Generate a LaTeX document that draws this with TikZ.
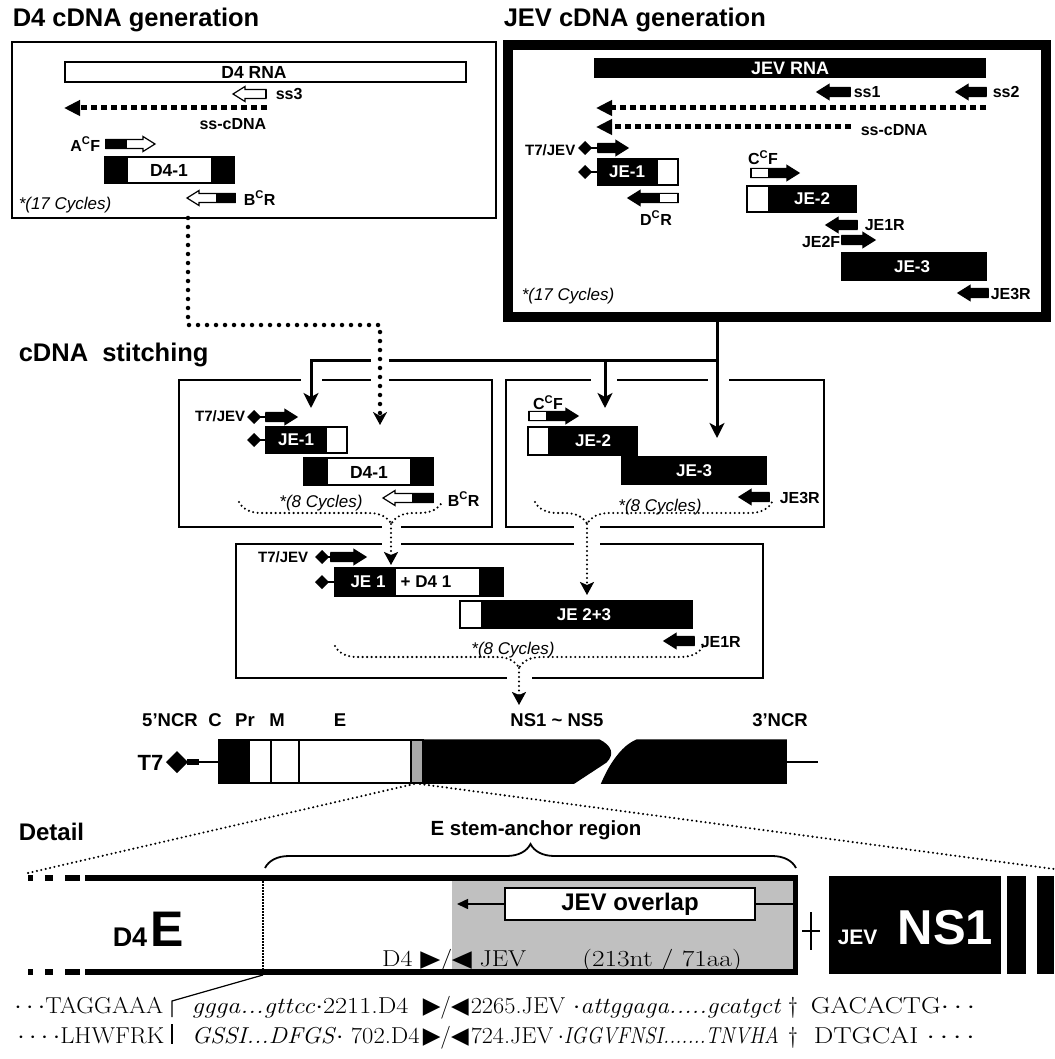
\documentclass[tikz,border=0pt]{standalone}
\usepackage{fontspec}
\setsansfont{Liberation Sans}
\newfontfamily\arrowglyphs{DejaVu Sans}
\usetikzlibrary{arrows.meta, decorations.pathreplacing, calc}
\definecolor{cgray}{HTML}{C0C0C0}
\definecolor{cdgray}{HTML}{A8A8A8}
\tikzset{
  every picture/.style={font=\sffamily, line width=1.5pt},
  title/.style={font=\sffamily\bfseries\fontsize{25.5pt}{28pt}\selectfont, anchor=west, inner sep=0pt},
  lbl/.style={font=\sffamily\bfseries\fontsize{#1}{#1}\selectfont, inner sep=0pt},
  lbl/.default=16pt,
  wlbl/.style={lbl=#1, text=white},
  wlbl/.default=17pt,
  cycles/.style={font=\sffamily\itshape\fontsize{17pt}{19pt}\selectfont, inner sep=0pt},
  serif/.style={font=\rmfamily\fontsize{23pt}{25pt}\selectfont, inner sep=0pt, anchor=base west},
  panel/.style={draw, inner sep=0pt, outer sep=0pt, line width=2.2pt},
  frag/.style={draw, line width=1.3pt},
  ssdash/.style={line width=5pt, dash pattern=on 6pt off 4pt, -{Triangle[length=16pt, width=15pt]}},
  bigdots/.style={line width=4.5pt, dash pattern=on 0pt off 9pt, line cap=round, -{Stealth[length=13pt, width=14pt, inset=4pt]}},
  dotline/.style={line width=2.3pt, dash pattern=on 0pt off 4.5pt, line cap=round},
  dotarrow/.style={dotline, -{Stealth[length=13pt, width=14pt, inset=3pt]}},
  feed/.style={line width=3pt, -{Stealth[length=15pt, width=15pt, inset=4pt]}},
}

\begin{document}
\begin{tikzpicture}[x=1pt, y=-1pt]
  \useasboundingbox (0,0) rectangle (1054,1059);
  \newcommand{\primer}[6]{% tail x, tip x, y, tail length, tail fill, body fill
    \pgfmathsetmacro{\pdir}{sign(#2-#1)}
    \filldraw[fill=#6, line width=1.2pt] (#1,#3-4.5) -- ({#2-(\pdir)*12},#3-4.5) -- ({#2-(\pdir)*12},#3-7.5) -- (#2,#3)
      -- ({#2-(\pdir)*12},#3+7.5) -- ({#2-(\pdir)*12},#3+4.5) -- (#1,#3+4.5) -- cycle;
    \filldraw[fill=#5, line width=1.2pt] (#1,#3-4.5) rectangle ({#1+(\pdir)*(#4)},#3+4.5);
  }
  \newcommand{\fragment}[3]{% y top, y bottom, list of x1/x2/fill
    \foreach \a/\b/\col in {#3} {\filldraw[frag, fill=\col] (\a,#1) rectangle (\b,#2);}
  }
  \newcommand{\tsev}[2]{\fill (#1-7,#2) -- (#1,#2-7) -- (#1+7,#2) -- (#1,#2+7) -- cycle;}
  \newcommand{\gap}[3]{\fill[white] ({#1-#3/2},#2-5) rectangle ({#1+#3/2},#2+5);}
  \newcommand{\cdotrow}{${\cdot}\,{\cdot}\,{\cdot}\,{\cdot}$}
  \newcommand{\junct}{{\arrowglyphs ▶}/{\arrowglyphs ◀}}
  \newcommand{\wide}[2][1.13]{\scalebox{#1}[1]{#2}}

  % titles
  \node[title] (d4title) at (12,20) {D4 cDNA generation};
  \node[title] (jevtitle) at (503,20) {JEV cDNA generation};
  \node[title] (stitchtitle) at (18,355) {cDNA\ \ stitching};
  \node[title, font=\sffamily\bfseries\fontsize{24pt}{26pt}\selectfont] (detailtitle) at (18,832) {Detail};

  % D4 cDNA generation
  \node[panel, minimum width=484pt, minimum height=176pt] (d4panel) at (254,130) {};
  \filldraw[frag, fill=white] (65,62) rectangle (466,82);
  \node[lbl=17.5pt] (d4rna) at (254,72) {D4 RNA};
  \primer{266}{233}{94}{0}{white}{white}
  \node[lbl, anchor=west] (ssthree) at (275,94) {ss3};
  \draw[ssdash] (267,108) -- (64,108);
  \node[lbl, anchor=east] (d4ss) at (267,124) {ss-cDNA};
  \node[lbl, anchor=east] (acf) at (101,144) {A\textsuperscript{C}F};
  \primer{106}{155}{144}{20}{black}{white}
  \fragment{157}{183}{105/127/black, 127/212/white, 212/234/black}
  \node[lbl=17.5pt] (d4one) at (169,170) {D4-1};
  \primer{235}{187}{198}{18}{black}{white}
  \node[lbl, anchor=west] (bcr) at (243,198) {B\textsuperscript{C}R};
  \node[cycles, anchor=west] (d4cyc) at (18,205) {*(17 Cycles)};

  % JEV cDNA generation
  \node[panel, minimum width=538pt, minimum height=272pt, line width=10pt] (jevpanel) at (777,181) {};
  \fill (594,58) rectangle (986,78);
  \node[wlbl=18pt] (jevrna) at (790,68) {JEV RNA};
  \primer{850}{817}{92}{0}{black}{black}
  \node[lbl, anchor=west] (ssone) at (853,92) {ss1};
  \primer{986}{956}{92}{0}{black}{black}
  \node[lbl, anchor=west] (sstwo) at (992,92) {ss2};
  \draw[ssdash] (986,108) -- (596,108);
  \draw[ssdash] (851,127) -- (596,127);
  \node[lbl, anchor=west] (jevss) at (860,130) {ss-cDNA};
  \node[lbl=15pt, anchor=east] (tjev) at (576,150) {T7/JEV};
  \tsev{585}{148} \draw (585,148) -- (598,148);
  \primer{598}{628}{148}{0}{black}{black}
  \tsev{585}{172} \draw (585,172) -- (598,172);
  \fragment{159}{185}{598/657/black, 657/678/white}
  \node[wlbl] (jeone) at (627,172) {JE-1};
  \primer{678}{628}{198}{19}{white}{black}
  \node[lbl] (dcr) at (656,218) {D\textsuperscript{C}R};
  \node[lbl] (ccf) at (763,158) {C\textsuperscript{C}F};
  \primer{751}{799}{173}{18}{white}{black}
  \fragment{186}{212}{747/769/white, 769/856/black}
  \node[wlbl] (jetwo) at (812,199) {JE-2};
  \primer{857}{826}{225}{0}{black}{black}
  \node[lbl, anchor=west] (jeoner) at (864,225) {JE1R};
  \node[lbl, anchor=east] (jetwof) at (841,242) {JE2F};
  \primer{842}{875}{240}{0}{black}{black}
  \fragment{253}{280}{842/986/black}
  \node[wlbl] (jethree) at (912,267) {JE-3};
  \primer{988}{958}{293}{0}{black}{black}
  \node[lbl, anchor=west] (jethreer) at (990,294) {JE3R};
  \node[cycles, anchor=west] (jevcyc) at (521,296) {*(17 Cycles)};

  % cDNA stitching
  \node[panel, minimum width=313pt, minimum height=147pt] (leftmix) at (335.5,453.5) {};
  \node[panel, minimum width=318pt, minimum height=147pt] (rightmix) at (665,453.5) {};
  \node[panel, minimum width=527pt, minimum height=134pt] (joinmix) at (499.5,611) {};
  \gap{311}{380}{21} \gap{380}{380}{18} \gap{604}{380}{26} \gap{718}{380}{21}
  \gap{391}{527}{19} \gap{391}{544}{19} \gap{587}{527}{26} \gap{587}{544}{26}
  \gap{519}{678}{25}

  \coordinate (jevdrop) at (717,360);
  \coordinate (leftturn) at (311,360);
  \coordinate (rightfork) at (605,360);
  \draw[feed] (jevpanel.south -| jevdrop) -- (717,438);
  \draw[feed] (jevdrop) -- (leftturn) -- (311,408);
  \draw[feed] (rightfork) -- (605,408);
  \gap{380}{360}{18}
  \coordinate (d4drop) at (188,325);
  \coordinate (d4land) at (380,425);
  \draw[bigdots] (d4panel.south -| d4drop) -- (d4drop) -| (d4land);

  % left mix
  \node[lbl=15pt, anchor=east] (tjevb) at (246,416) {T7/JEV};
  \tsev{254}{417} \draw (254,417) -- (266,417);
  \primer{266}{297}{417}{0}{black}{black}
  \tsev{254}{440} \draw (254,440) -- (266,440);
  \fragment{427}{453}{266/326/black, 326/347/white}
  \node[wlbl] (jeoneb) at (296,440) {JE-1};
  \fragment{458}{485}{304/327/black, 327/411/white, 411/433/black}
  \node[lbl=17.5pt] (dfouroneb) at (369,472) {D4-1};
  \primer{433}{383}{498}{20}{black}{white}
  \node[lbl, anchor=west] (bcrb) at (447,499) {B\textsuperscript{C}R};
  \node[cycles] (leftcyc) at (321,503) {*(8 Cycles)};
  \draw[dotline, decorate, decoration={brace, mirror, amplitude=22pt, aspect=0.75}] (239,502) -- (442,502);
  \draw[dotarrow] (391,524) -- (391,565);

  % right mix
  \node[lbl] (ccfb) at (548,403) {C\textsuperscript{C}F};
  \primer{529}{578}{416}{18}{white}{black}
  \fragment{427}{455}{528/549/white, 549/637/black}
  \node[wlbl] (jetwob) at (593,441) {JE-2};
  \fragment{457}{484}{622/766/black}
  \node[wlbl] (jethreeb) at (694,471) {JE-3};
  \primer{769}{739}{497}{0}{black}{black}
  \node[lbl, anchor=west] (jethreerb) at (779,498) {JE3R};
  \node[cycles] (rightcyc) at (660,507) {*(8 Cycles)};
  \draw[dotline, decorate, decoration={brace, mirror, amplitude=22pt, aspect=0.22}] (535,502) -- (772,502);
  \draw[dotarrow] (587,524) -- (587,595);

  % joined mix
  \node[lbl=15pt, anchor=east] (tjevc) at (309,557) {T7/JEV};
  \tsev{322}{557} \draw (322,557) -- (331,557);
  \primer{331}{366}{557}{0}{black}{black}
  \tsev{322}{582} \draw (322,582) -- (335,582);
  \fragment{568}{596}{335/395/black, 395/480/white, 480/503/black}
  \node[wlbl] (jeonec) at (368,582) {JE 1};
  \node[lbl=17pt] (dfouronec) at (426,582) {+ D4 1};
  \fragment{601}{628}{460/482/white, 482/692/black}
  \node[wlbl] (jetwothree) at (584,615) {JE 2+3};
  \primer{694}{664}{641}{0}{black}{black}
  \node[lbl, anchor=west] (jeonerc) at (700,642) {JE1R};
  \node[cycles] (joincyc) at (513,650) {*(8 Cycles)};
  \draw[dotline, decorate, decoration={brace, mirror, amplitude=22pt, aspect=0.5}] (335,646) -- (703,646);
  \draw[dotarrow] (519,668) -- (519,705);

  % genome
  \foreach \x/\t/\n in {170/5'NCR/gfive, 215/C/gc, 245/Pr/gpr, 277/M/gm, 340/E/ge, 557/NS1 \textasciitilde\ NS5/gns, 780/3'NCR/gthree}
    \node[lbl=18.5pt] (\n) at (\x,720) {\t};
  \node[lbl=22pt, anchor=east] (tseven) at (164,763) {T7};
  \fill (166,762) -- (177,751) -- (188,762) -- (177,773) -- cycle;
  \draw[line width=6pt] (187,762) -- (199,762);
  \draw (199,762) -- (219,762);
  \fragment{740}{783}{219/249/black, 249/271/white, 271/299/white, 299/411/white, 411/423/cdgray}
  \filldraw (423,740) -- (599,740) .. controls (611,746) and (614,754) .. (606,762) -- (574,783) -- (423,783) -- cycle;
  \filldraw (637,740) -- (786,740) -- (786,783) -- (602,783) .. controls (606,774) and (610,766) .. (616,758)
    .. controls (622,750) and (628,744) .. (637,740) -- cycle;
  \draw (786,762) -- (818,762);
  \draw[dotline] (414,784) -- (28,873);
  \draw[dotline] (420,784) -- (1054,869);

  % detail
  \fill[cgray] (452,881) rectangle (795,969);
  \draw[line width=6pt] (85,878) -- (797,878);
  \draw[line width=6pt] (85,972) -- (797,972);
  \foreach \a/\b in {28/33, 45/53, 65/80} {
    \fill (\a,875) rectangle (\b,881);
    \fill (\a,969) rectangle (\b,975);
  }
  \draw[line width=5pt] (795,875) -- (795,975);
  \draw[line width=1.2pt, dash pattern=on 1.5pt off 1.5pt] (263,881) -- (263,969);
  \draw[line width=1.8pt, decorate, decoration={brace, amplitude=24pt, aspect=0.5}] (265,868) -- (796,868);
  \node[lbl=20.5pt] (stemlbl) at (536,830) {E stem-anchor region};
  \node[draw, fill=white, line width=1.5pt, minimum width=250pt, minimum height=32pt, inner sep=0pt,
    lbl=24pt] (overlap) at (630,904) {JEV overlap};
  \draw (overlap.east) -- (793,904);
  \draw[-{Triangle[length=11pt, width=10pt]}] (overlap.west) -- (457,904);
  \node[lbl=27pt, anchor=base west] (dfour) at (112,946) {D4};
  \node[lbl=50pt, anchor=base west] (ebig) at (150,946) {E};
  \node[serif, anchor=base east] (d4mark) at (453,966) {\wide{D4 {\arrowglyphs ▶}/}};
  \node[serif] (jevmark) at (451,966) {\wide{{\arrowglyphs ◀} JEV}};
  \node[serif, anchor=base] (span) at (662,966) {\wide[1.19]{(213nt / 71aa)}};
  \draw[line width=1.2pt] (811,912) -- (811,950) (802,931) -- (820,931);
  \fill (829,876) rectangle (1001,974);
  \fill (1007,876) rectangle (1026,974);
  \fill (1037,876) rectangle (1054,974);
  \node[wlbl=21pt, anchor=base west] (nsjev) at (837,944) {JEV};
  \node[wlbl=49pt, anchor=base west] (nsone) at (897,944) {NS1};

  % sequences
  \draw[line width=1.2pt] (263,975) -- (172,1001) -- (172,1017);
  \draw[line width=1.2pt] (172,1024) -- (172,1044);
  \node[serif, anchor=base east] (ntleft) at (164,1013) {\wide[1.07]{$\cdots$TAGGAAA}};
  \node[serif] (ntfive) at (191,1013) {\wide[1.14]{\textit{ggga...gttcc}$\cdot$2211.D4}};
  \node[serif] (ntmark) at (422,1013) {\junct};
  \node[serif] (ntjev) at (470,1013) {\wide[1.06]{2265.JEV}};
  \node[serif] (ntthree) at (572,1013) {\wide[1.1]{$\cdot$\textit{attggaga.....gcatgct}}};
  \node[serif, anchor=base] (ntdag) at (793,1013) {\textdagger};
  \node[serif] (ntend) at (810,1013) {\wide[1.18]{GACACTG$\cdots$}};
  \node[serif, anchor=base east] (aaleft) at (165,1043) {\wide[1.07]{\cdotrow LHWFRK}};
  \node[serif] (aafive) at (191,1043) {\wide[1.07]{\textit{GSSI...DFGS}$\cdot$ 702.D4}};
  \node[serif] (aamark) at (422,1043) {\junct};
  \node[serif] (aajev) at (470,1043) {\wide[1.05]{724.JEV}};
  \node[serif] (aathree) at (557,1043) {\wide[0.88]{$\cdot$\textit{IGGVFNSI.......TNVHA}}};
  \node[serif, anchor=base] (aadag) at (793,1043) {\textdagger};
  \node[serif] (aaend) at (813,1043) {\wide[1.2]{DTGCAI \cdotrow}};
\end{tikzpicture}
\end{document}
